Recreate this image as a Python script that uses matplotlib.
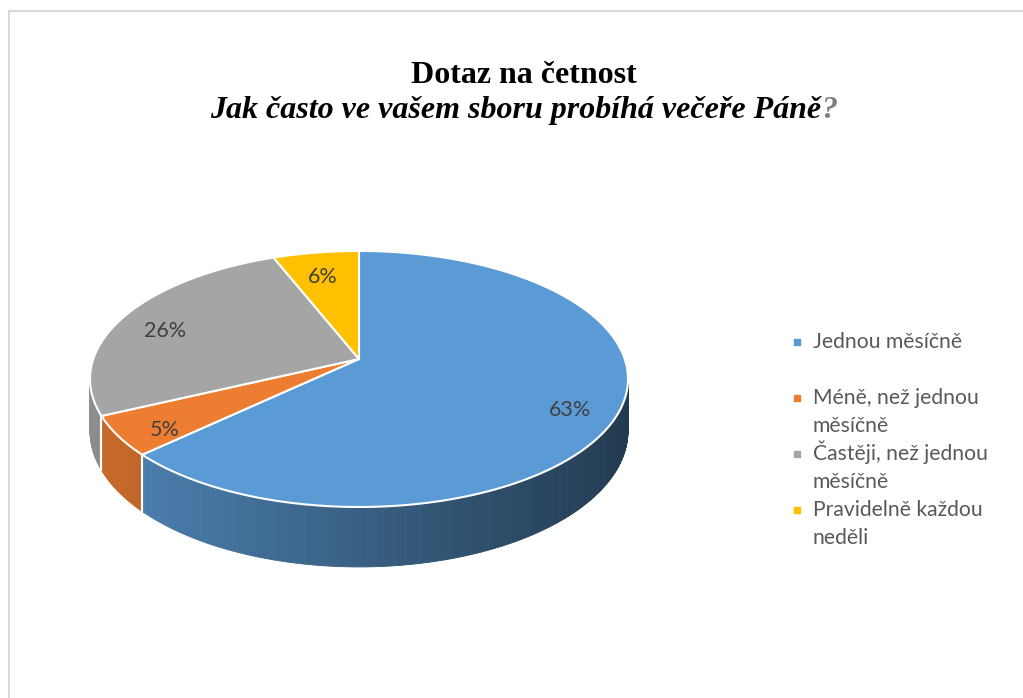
import textwrap
import numpy as np
import matplotlib
matplotlib.use("Agg")
import matplotlib.pyplot as plt
from matplotlib.patches import Polygon

# data
title = "Dotaz na četnost"
subtitle = "Jak často ve vašem sboru probíhá večeře Páně"
categories = ["Jednou měsíčně", "Méně, než jednou měsíčně",
              "Častěji, než jednou měsíčně", "Pravidelně každou neděli"]
values = [63, 5, 26, 6]
colors = ["#5B9BD5", "#ED7D31", "#A5A5A5", "#FFC000"]

# layout of the 3D pie (pixel units)
CX, CY = 359.0, 359.0
A, B = 265.7, 124.9
P = 0.156           # perspective factor
H = 50.6            # side thickness


def proj(phi, r=1.0, down=0.0):
    t = np.radians(phi)
    u = r * np.sin(t)
    v = r * np.cos(t)
    w = 1 + P * v
    return CX + A * u / w, CY - B * v / w + down / w


def rgb(c):
    c = c.lstrip("#")
    return np.array([int(c[i:i + 2], 16) for i in (0, 2, 4)]) / 255.0


fig = plt.figure(figsize=(10.23, 6.98), dpi=100)
ax = fig.add_axes([0, 0, 1, 1])
ax.set_xlim(0, 1023)
ax.set_ylim(698, 0)
ax.axis("off")

# frame
ax.plot([9, 9, 1030], [705, 11, 11], color="#d9d9d9", lw=1.5)

total = float(sum(values))
bounds = np.concatenate([[0], np.cumsum(values) / total * 360.0])

# visible side range (front half, between the horizontal extremes)
vis0 = np.degrees(np.arccos(-P))
vis1 = 360.0 - vis0

# sides
for i, col in enumerate(colors):
    a0, a1 = max(bounds[i], vis0), min(bounds[i + 1], vis1)
    if a1 <= a0:
        continue
    base = rgb(col)
    steps = np.linspace(a0, a1, max(int((a1 - a0) * 2), 2))
    for s0, s1 in zip(steps[:-1], steps[1:]):
        x0, y0 = proj(s0)
        x1, y1 = proj(s1)
        x2, y2 = proj(s1, down=H)
        x3, y3 = proj(s0, down=H)
        xm = (x0 + x1) / 2
        f = 0.85 - 0.47 * (xm - (CX - A)) / (2 * A)
        c = np.clip(base * f, 0, 1)
        ax.add_patch(Polygon([[x0, y0], [x1, y1], [x2, y2], [x3, y3]],
                             closed=True, facecolor=c, edgecolor=c, lw=0.6))
    for b in (bounds[i], bounds[i + 1]):
        if vis0 < b < vis1:
            xt, yt = proj(b)
            xb, yb = proj(b, down=H)
            ax.plot([xt, xb], [yt, yb], color="white", lw=1.5)

# top faces
for i, col in enumerate(colors):
    arc = np.linspace(bounds[i], bounds[i + 1], 200)
    xs, ys = proj(arc)
    pts = np.column_stack([np.r_[CX, xs], np.r_[CY, ys]])
    ax.add_patch(Polygon(pts, closed=True, facecolor=col,
                         edgecolor="white", lw=1.5, joinstyle="round"))

# percentage labels
for i in range(len(values)):
    mid = (bounds[i] + bounds[i + 1]) / 2
    lx, ly = proj(mid, r=0.82, down=8)
    ax.text(lx, ly, f"{round(values[i] / total * 100)}%", ha="center",
            va="center", fontsize=15.5, family="Lato", color="#404040")

# legend
for i, (cat, col) in enumerate(zip(categories, colors)):
    y = 348 + i * 56
    ax.plot([797], [y - 6], marker="s", markersize=5, color=col, lw=0)
    for k, line in enumerate(textwrap.fill(cat, 19).split("\n")):
        ax.text(813, y + k * 28, line, ha="left", va="baseline",
                fontsize=15.2, family="Lato", color="#595959")

# title
ax.text(524, 83, title, ha="center", va="baseline", fontsize=23,
        family="Liberation Serif", weight="bold", color="black")
renderer = fig.canvas.get_renderer()
t1 = ax.text(0, 118, subtitle, ha="left", va="baseline", fontsize=23,
             family="Liberation Serif", weight="bold", style="italic",
             color="black")
t2 = ax.text(0, 118, "?", ha="left", va="baseline", fontsize=23,
             family="Liberation Serif", weight="bold", style="italic",
             color="#7f7f7f")
w1 = t1.get_window_extent(renderer).width
w2 = t2.get_window_extent(renderer).width
start = 524 - (w1 + w2) / 2
t1.set_x(start)
t2.set_x(start + w1)

fig.savefig("out.png", dpi=100, facecolor="white")
